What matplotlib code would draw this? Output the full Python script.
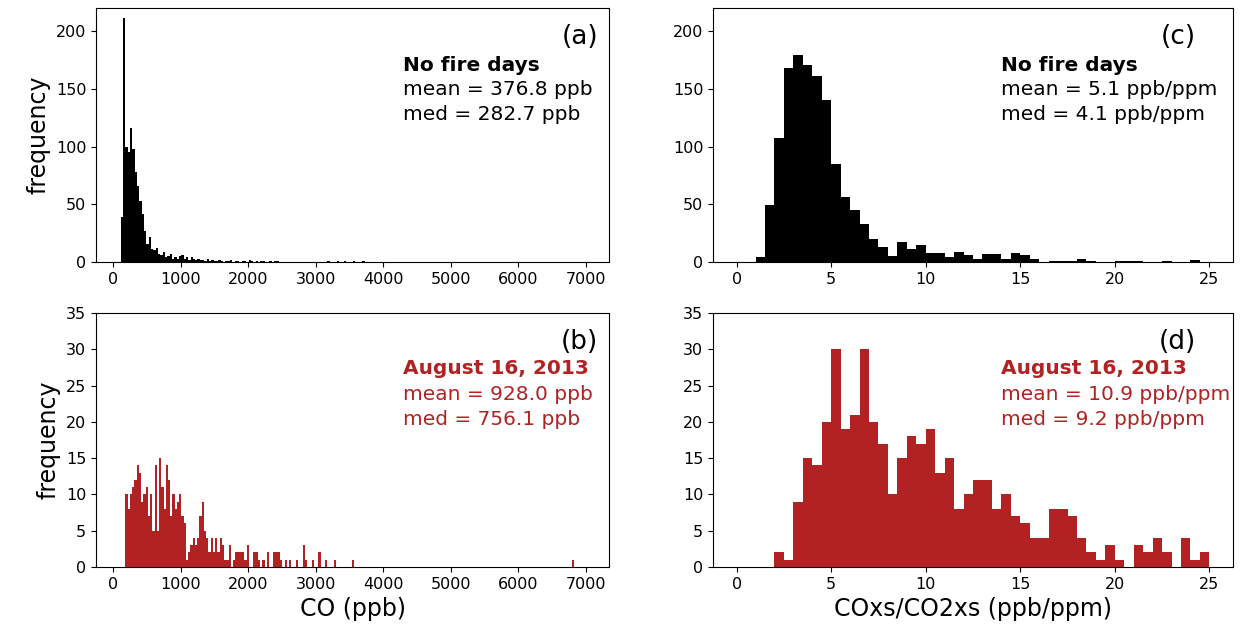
import numpy as np
import matplotlib
matplotlib.use("Agg")
import matplotlib.pyplot as plt

# ---- data (histogram counts) ----
# CO, no fire days: 200 bins starting at 113 ppb, 34.4 ppb wide
co_nofire_start = 113.0
co_nofire_width = 34.4
co_nofire_counts = [
    39, 211, 100, 95, 116, 98, 78, 66, 53, 42, 27, 16, 22, 11, 10, 12, 7, 6, 9, 4,
    5, 7, 3, 4, 3, 5, 6, 3, 4, 2, 4, 3, 2, 3, 2, 2, 1, 3, 1, 2,
    1, 1, 2, 1, 0, 1, 1, 2, 0, 1, 1, 0, 1, 1, 0, 2, 1, 0, 1, 0,
    1, 1, 0, 0, 1, 0, 1, 1, 0, 0, 0, 0, 0, 0, 0, 0, 0, 0, 0, 0,
    0, 0, 0, 0, 0, 0, 0, 0, 0, 1, 0, 0, 0, 1, 0, 0, 1, 0, 0, 0,
    1, 0, 0, 0, 1, 0, 0, 0, 0, 0, 0, 0, 0, 0, 0, 0, 0, 0, 0, 0,
] + [0] * 80

# CO, August 16 2013: 200 bins starting at 180 ppb, 33.25 ppb wide
co_fire_start = 180.0
co_fire_width = 33.25
co_fire_counts = [
    10, 8, 10, 11, 12, 14, 13, 9, 10, 11, 7, 10, 5, 14, 5, 15, 11, 8, 14, 12,
    7, 10, 8, 9, 10, 7, 6, 1, 2, 3, 4, 3, 4, 7, 9, 5, 4, 2, 4, 2,
    4, 2, 4, 3, 1, 1, 3, 0, 1, 2, 2, 2, 2, 1, 3, 0, 0, 2, 2, 1,
    0, 1, 0, 2, 0, 0, 2, 2, 2, 1, 0, 1, 0, 1, 0, 0, 1, 0, 0, 3,
    1, 0, 0, 1, 0, 0, 2, 0, 0, 1, 0, 0, 0, 1, 0, 0, 0, 0, 0, 0,
    0, 1, 0, 0, 0, 0, 0, 0, 0, 0, 0, 0, 0, 0, 0, 0, 0, 0, 0, 0,
] + [0] * 79 + [1]

# COxs/CO2xs ratio: 50 bins of 0.5 from 0 to 25
ratio_start = 0.0
ratio_width = 0.5
ratio_nofire_counts = [
    0, 0, 4, 49, 107, 168, 179, 171, 161, 140,
    85, 56, 45, 33, 20, 13, 5, 17, 11, 15,
    8, 8, 4, 9, 6, 3, 7, 7, 3, 8,
    6, 3, 0, 1, 1, 1, 3, 1, 0, 0,
    1, 1, 1, 0, 0, 1, 0, 0, 2, 0,
]
ratio_fire_counts = [
    0, 0, 0, 0, 2, 1, 9, 15, 14, 20,
    30, 19, 21, 30, 20, 17, 10, 15, 18, 17,
    19, 13, 15, 8, 10, 12, 12, 8, 10, 7,
    6, 4, 4, 8, 8, 7, 4, 2, 1, 3,
    1, 0, 3, 2, 4, 2, 0, 4, 1, 2,
]

nofire_title = "No fire days"
fire_title = "August 16, 2013"
stats_text = {
    "a": ["mean = 376.8 ppb", "med = 282.7 ppb"],
    "b": ["mean = 928.0 ppb", "med = 756.1 ppb"],
    "c": ["mean = 5.1 ppb/ppm", "med = 4.1 ppb/ppm"],
    "d": ["mean = 10.9 ppb/ppm", "med = 9.2 ppb/ppm"],
}

RED = "#b22222"
W, H = 1240, 632


def px_axes(fig, left, top, right, bottom):
    # axes from pixel box of the reference
    return fig.add_axes([left / W, 1 - bottom / H, (right - left) / W, (bottom - top) / H])


def draw_hist(ax, start, width, counts, color):
    counts = np.asarray(counts)
    edges = start + width * np.arange(len(counts))
    ax.bar(edges, counts, width=width, align="edge", color=color, linewidth=0)


def annotate(ax, tx, title, lines, color, label, ly):
    ax.text(tx, ly[0], title, transform=ax.transAxes, fontsize=14.5,
            fontweight="bold", color=color, va="center", ha="left")
    ax.text(tx, ly[1], lines[0], transform=ax.transAxes, fontsize=14.5,
            color=color, va="center", ha="left")
    ax.text(tx, ly[2], lines[1], transform=ax.transAxes, fontsize=14.5,
            color=color, va="center", ha="left")


fig = plt.figure(figsize=(W / 100, H / 100), dpi=100)

ax_a = px_axes(fig, 96, 8, 609, 262)
ax_b = px_axes(fig, 96, 313, 609, 567)
ax_c = px_axes(fig, 713, 8, 1233, 262)
ax_d = px_axes(fig, 713, 313, 1233, 567)

draw_hist(ax_a, co_nofire_start, co_nofire_width, co_nofire_counts, "black")
draw_hist(ax_b, co_fire_start, co_fire_width, co_fire_counts, RED)
draw_hist(ax_c, ratio_start, ratio_width, ratio_nofire_counts, "black")
draw_hist(ax_d, ratio_start, ratio_width, ratio_fire_counts, RED)

for ax in (ax_a, ax_b):
    ax.set_xlim(-255, 7345)
    ax.set_xticks(np.arange(0, 7001, 1000))
for ax in (ax_c, ax_d):
    ax.set_xlim(-1.25, 26.25)
    ax.set_xticks(np.arange(0, 26, 5))
for ax in (ax_a, ax_c):
    ax.set_ylim(0, 220)
    ax.set_yticks(np.arange(0, 201, 50))
for ax in (ax_b, ax_d):
    ax.set_ylim(0, 35)
    ax.set_yticks(np.arange(0, 36, 5))

for ax in (ax_a, ax_b, ax_c, ax_d):
    ax.tick_params(labelsize=11.5)

ax_a.set_ylabel("frequency", fontsize=17)
ax_b.set_ylabel("frequency", fontsize=17)
ax_b.set_xlabel("CO (ppb)", fontsize=17)
ax_d.set_xlabel("COxs/CO2xs (ppb/ppm)", fontsize=17)

annotate(ax_a, 0.598, nofire_title, stats_text["a"], "black", "(a)", [0.772, 0.678, 0.579])
annotate(ax_b, 0.598, fire_title, stats_text["b"], RED, "(b)", [0.783, 0.681, 0.579])
annotate(ax_c, 0.554, nofire_title, stats_text["c"], "black", "(c)", [0.772, 0.678, 0.579])
annotate(ax_d, 0.554, fire_title, stats_text["d"], RED, "(d)", [0.783, 0.681, 0.579])

for ax, lab, x in ((ax_a, "(a)", 0.979), (ax_b, "(b)", 0.979), (ax_c, "(c)", 0.929), (ax_d, "(d)", 0.929)):
    ax.text(x, 0.885, lab, transform=ax.transAxes, fontsize=19, ha="right", va="center")

fig.savefig("out.png", dpi=100)
